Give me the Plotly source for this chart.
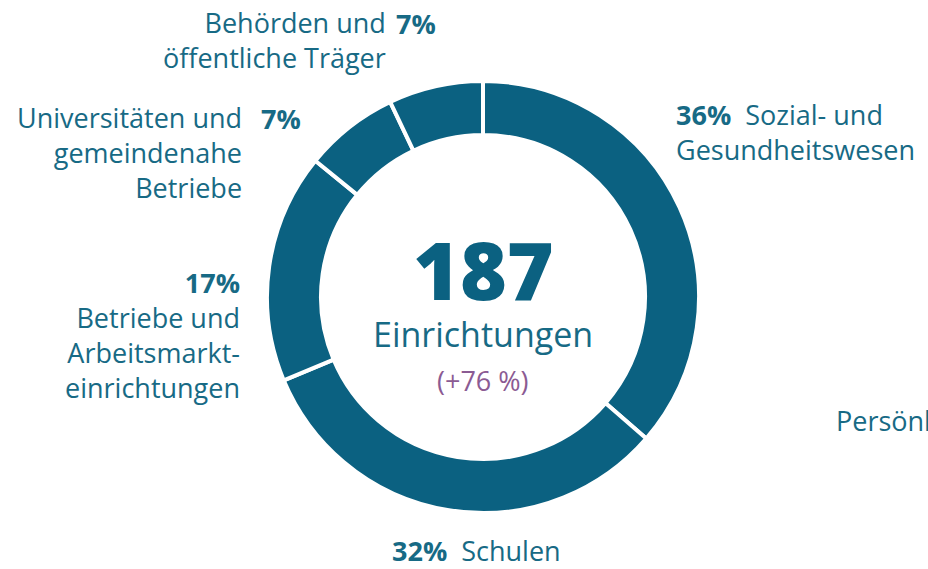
import plotly.graph_objects as go

W, H = 928, 569

# Data (clockwise from 12 o'clock)
categories = [
    "Sozial- und Gesundheitswesen",
    "Schulen",
    "Betriebe und Arbeitsmarkteinrichtungen",
    "Universitäten und gemeindenahe Betriebe",
    "Behörden und öffentliche Träger",
]
shares = [36, 32, 17, 7, 7]
total_label = "187"
total_text = "Einrichtungen"
change_text = "(+76 %)"
cut_label = "Persönliche"

TEAL = "#0b6181"
TEXT = "#176a85"
PURPLE = "#8b5b93"
FONT = "Open Sans"
LBL = 27


def px(x):
    return x / W


def py(y):
    return 1 - y / H


cx, cy, R = 483, 297, 216

fig = go.Figure(
    go.Pie(
        labels=categories,
        values=shares,
        hole=0.75,
        sort=False,
        direction="clockwise",
        rotation=0,
        textinfo="none",
        marker=dict(colors=[TEAL] * len(shares), line=dict(color="white", width=4)),
        domain=dict(x=[px(cx - R), px(cx + R)], y=[py(cy + R), py(cy - R)]),
        showlegend=False,
        hoverinfo="label+percent",
    )
)

ann = []


def add(text, x, y, xanchor="left", yanchor="middle", size=LBL, color=TEXT, align="left",
        weight=None, height=None):
    f = dict(family=FONT, size=size, color=color)
    if weight:
        f["weight"] = weight
    a = dict(text=text, x=px(x), y=py(y), xref="paper", yref="paper",
             xanchor=xanchor, yanchor=yanchor, showarrow=False,
             align=align, font=f)
    if height:
        a["height"] = height
    ann.append(a)


def pct(v):
    return f"<b>{v}%</b>"


# Behörden
add("Behörden und<br>öffentliche Träger", 388, 40, xanchor="right", align="right")
add(pct(shares[4]), 394, 23, xanchor="left")
# Universitäten
add("Universitäten und<br>gemeindenahe<br>Betriebe", 244, 152, xanchor="right", align="right")
add(pct(shares[3]), 259, 118, xanchor="left")
# Betriebe
add(pct(shares[2]) + "<br>Betriebe und<br>Arbeitsmarkt-<br>einrichtungen", 242, 335, xanchor="right", align="right")
# Sozial
add(pct(shares[0]) + "  Sozial- und<br>Gesundheitswesen", 674, 132, xanchor="left", align="left")
# Schulen
add(pct(shares[1]) + "  Schulen", 390, 550, xanchor="left")
# cut off label at right edge (the reference is cropped there)
add(cut_label, 834, 420, xanchor="left")

# Center
add(total_label, cx, 268, xanchor="center", size=80, color=TEAL, weight=800, height=66)
add(total_text, cx, 334, xanchor="center", size=34, color=TEXT)
add(change_text, cx, 380, xanchor="center", size=27, color=PURPLE)

fig.update_layout(
    width=W, height=H,
    margin=dict(l=0, r=0, t=0, b=0),
    paper_bgcolor="white",
    plot_bgcolor="white",
    annotations=ann,
)

fig.write_html(
    "out.html",
    config={"displayModeBar": False},
    post_script="document.body.style.margin='0';document.body.style.overflow='hidden';",
)
